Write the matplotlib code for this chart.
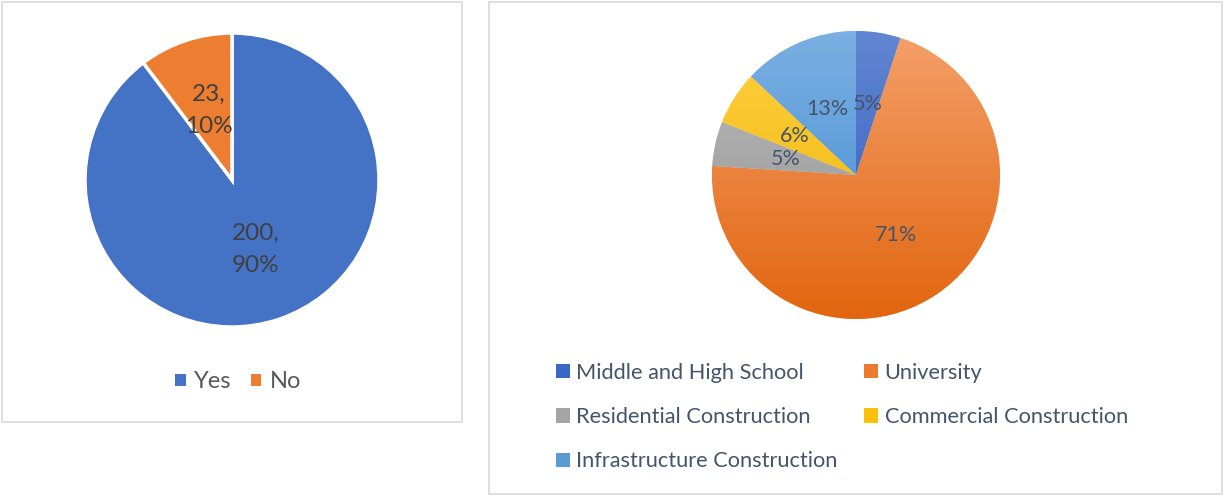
import numpy as np
import matplotlib.pyplot as plt
from matplotlib.patches import Rectangle, Patch
from matplotlib.colors import to_rgb

plt.rcParams['font.family'] = ['Lato', 'DejaVu Sans']

# dados
resp_labels = ["Yes", "No"]
resp_values = [200, 23]
resp_colors = ["#4472C4", "#ED7D31"]

setor_labels = ["Middle and High School", "University", "Residential Construction",
                "Commercial Construction", "Infrastructure Construction"]
setor_values = [5, 71, 5, 6, 13]
# cor clara (topo) e escura (base) de cada fatia
setor_top = ["#6286D2", "#F4A06A", "#BDBDBD", "#FFD040", "#7AB0E2"]
setor_bot = ["#2A58BC", "#E2650F", "#8E8E8E", "#EDB200", "#3F88D0"]
setor_leg = ["#3A66C4", "#EE7A2E", "#A5A5A5", "#FBC10A", "#5B9BD5"]

W, H = 1225, 496
fig = plt.figure(figsize=(W / 100, H / 100), dpi=100)


def eixo_px(cx, cy, r):
    return fig.add_axes([(cx - r) / W, (H - cy - r) / H, 2 * r / W, 2 * r / H])


def moldura(x0, y0, x1, y1):
    fig.add_artist(Rectangle((x0 / W, (H - y1) / H), (x1 - x0) / W, (y1 - y0) / H,
                             transform=fig.transFigure, fill=False,
                             edgecolor="#D9D9D9", linewidth=1.2))


moldura(2, 2, 462, 422)
moldura(489, 2, 1222, 494)

# grafico da esquerda
ax1 = eixo_px(232, 180, 147)
total = sum(resp_values)
w1, t1, a1 = ax1.pie(resp_values, colors=resp_colors, startangle=90, counterclock=False,
                     autopct=lambda p: "{:d},\n{:.0f}%".format(int(round(p * total / 100)), p),
                     pctdistance=0.5, radius=1,
                     wedgeprops=dict(edgecolor="white", linewidth=2.5),
                     textprops=dict(color="#404040", fontsize=17.5))
for t in a1:
    t.set_linespacing(1.65)
ax1.set_xlim(-1.0, 1.0)
ax1.set_ylim(-1.0, 1.0)
ax1.axis("off")

fig.legend([Patch(facecolor=c) for c in resp_colors], resp_labels, loc="center",
           bbox_to_anchor=(238 / W, 1 - 382 / H),
           ncol=2, frameon=False, fontsize=17, labelcolor="#595959",
           handlelength=0.45, handleheight=0.45, handletextpad=0.35, columnspacing=0.8)

# grafico da direita
ax2 = eixo_px(856, 175, 144)
w2, t2, a2 = ax2.pie(setor_values, colors=setor_bot, startangle=90, counterclock=False,
                     autopct=lambda p: "{:.0f}%".format(p), pctdistance=0.5, radius=1,
                     wedgeprops=dict(edgecolor="white", linewidth=0.4),
                     textprops=dict(color="#44546A", fontsize=15.5))
for w, c0, c1 in zip(w2, setor_top, setor_bot):
    grad = np.linspace(0, 1, 200)[:, None, None]
    img = (1 - grad) * np.array(to_rgb(c0)) + grad * np.array(to_rgb(c1))
    im = ax2.imshow(img, extent=(-1, 1, -1, 1), aspect="auto", origin="upper", zorder=1.5)
    im.set_clip_path(w)
for t in a2:
    t.set_zorder(3)
ax2.set_xlim(-1.0, 1.0)
ax2.set_ylim(-1.0, 1.0)
ax2.axis("off")

alcas = [Patch(facecolor=c) for c in setor_leg]
ordem = [0, 2, 4, 1, 3]
fig.legend([alcas[i] for i in ordem], [setor_labels[i] for i in ordem],
           loc="upper left", bbox_to_anchor=(536 / W, 1 - 343 / H),
           ncol=2, frameon=False, fontsize=15.7, labelcolor="#44546A",
           handlelength=0.65, handleheight=0.65, handletextpad=0.3,
           labelspacing=1.12, columnspacing=1.2)

fig.savefig("out.png", dpi=100)
